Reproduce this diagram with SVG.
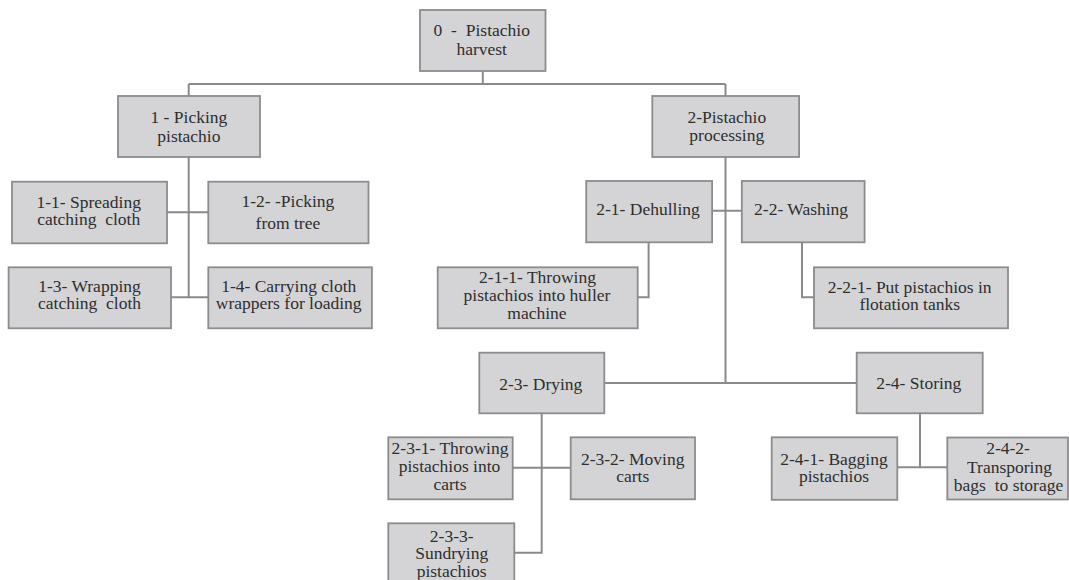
<svg xmlns="http://www.w3.org/2000/svg" width="1069" height="580" viewBox="0 0 1069 580">
<style>
.box{fill:#d4d4d6;stroke:#8c8c8e;stroke-width:1.8}
text{font-family:'Liberation Serif','DejaVu Serif','Times New Roman',serif;font-size:17.5px;fill:#2e2e2e;text-anchor:middle}
.conn{fill:none;stroke:#8a8a8c;stroke-width:2}
</style>
<rect width="1069" height="580" fill="#ffffff"/>
<g id="connectors" class="conn">
<path d="M482.8,71 V84 M188.7,84 H725.5 M188.7,84 V96 M725.5,84 V96"/>
<path d="M188.7,157 V297.3 M167,212.3 H208.3 M171,297.3 H208.3"/>
<path d="M725.5,157 V383 M712,210.7 H741.8 M604.3,383 H856.7"/>
<path d="M648.6,242.3 V297.3 H637.7"/>
<path d="M802,242.3 V297.3 H814"/>
<path d="M541.7,413.3 V552.7 H514 M512.7,467.7 H570.7"/>
<path d="M920,413.3 V467.3 M897.3,467.3 H947.3"/>
</g>
<g id="n0"><rect class="box" x="420" y="10" width="125.5" height="61"/>
<text x="481.7" y="35.5" word-spacing="4.5">0 - Pistachio</text><text x="481.7" y="55">harvest</text></g>
<g id="n1"><rect class="box" x="118" y="96" width="142" height="61"/>
<text x="188.9" y="122.5">1 - Picking</text><text x="188.9" y="141.5">pistachio</text></g>
<g id="n2"><rect class="box" x="652.3" y="96" width="146.8" height="61"/>
<text x="726.8" y="122.5">2-Pistachio</text><text x="726.8" y="140.5">processing</text></g>
<g id="n1-1"><rect class="box" x="12" y="181.7" width="155" height="61.6"/>
<text x="88.7" y="207.7">1-1- Spreading</text><text x="88.7" y="225" xml:space="preserve">catching  cloth</text></g>
<g id="n1-2"><rect class="box" x="208.3" y="181.7" width="160.2" height="61.6"/>
<text x="287.9" y="206.7">1-2- -Picking</text><text x="287.9" y="229.3">from tree</text></g>
<g id="n1-3"><rect class="box" x="8.6" y="267.3" width="162.4" height="61"/>
<text x="89.5" y="292.3">1-3- Wrapping</text><text x="89.5" y="309.3" xml:space="preserve">catching  cloth</text></g>
<g id="n1-4"><rect class="box" x="208.3" y="267.3" width="163.6" height="61"/>
<text x="288.7" y="291.7">1-4- Carrying cloth</text><text x="288.7" y="308.5">wrappers for loading</text></g>
<g id="n2-1"><rect class="box" x="586.2" y="181" width="125.9" height="61.3"/>
<text x="648" y="215">2-1- Dehulling</text></g>
<g id="n2-2"><rect class="box" x="741.8" y="181" width="122.8" height="61.3"/>
<text x="801.1" y="215">2-2- Washing</text></g>
<g id="n2-1-1"><rect class="box" x="437.7" y="267.3" width="200" height="61"/>
<text x="537.5" y="283.3">2-1-1- Throwing</text><text x="537" y="301.3">pistachios into huller</text><text x="537" y="319">machine</text></g>
<g id="n2-2-1"><rect class="box" x="814" y="267.3" width="194" height="61"/>
<text x="909.7" y="293.3">2-2-1- Put pistachios in</text><text x="909.7" y="310.3">flotation tanks</text></g>
<g id="n2-3"><rect class="box" x="479.3" y="352.7" width="125" height="60.6"/>
<text x="540.8" y="390">2-3- Drying</text></g>
<g id="n2-4"><rect class="box" x="856.7" y="352.7" width="126" height="60.6"/>
<text x="918.8" y="389.3">2-4- Storing</text></g>
<g id="n2-3-1"><rect class="box" x="388.3" y="437.3" width="124.4" height="62"/>
<text x="450" y="454">2-3-1- Throwing</text><text x="449.5" y="471.7">pistachios into</text><text x="450" y="490">carts</text></g>
<g id="n2-3-2"><rect class="box" x="570.7" y="437.3" width="124.3" height="62"/>
<text x="632.7" y="465">2-3-2- Moving</text><text x="632.7" y="482">carts</text></g>
<g id="n2-3-3"><rect class="box" x="388.3" y="523.3" width="126" height="80"/>
<text x="451.7" y="541.7">2-3-3-</text><text x="451.7" y="559.3">Sundrying</text><text x="451.7" y="576.5">pistachios</text></g>
<g id="n2-4-1"><rect class="box" x="771.7" y="437.3" width="125.6" height="62.5"/>
<text x="834" y="465">2-4-1- Bagging</text><text x="834" y="482">pistachios</text></g>
<g id="n2-4-2"><rect class="box" x="947.3" y="437.5" width="120.7" height="62"/>
<text x="1008" y="454.3">2-4-2-</text><text x="1009.5" y="472.5">Transporing</text><text x="1008.5" y="490.5" xml:space="preserve">bags  to storage</text></g>
</svg>
